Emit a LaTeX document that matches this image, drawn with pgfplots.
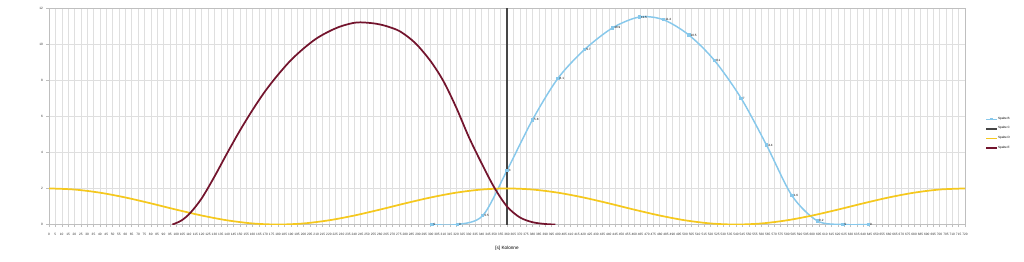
\documentclass[border=0pt]{standalone}
\usepackage{fontspec}
\setmainfont{Liberation Sans}
\usepackage{pgfplots}
\pgfplotsset{compat=1.18}
\definecolor{cblue}{RGB}{135,200,235}
\definecolor{cmaroon}{RGB}{115,20,45}
\definecolor{cyellow}{RGB}{245,200,30}
\definecolor{cline}{RGB}{70,70,70}
\begin{document}
\begin{tikzpicture}
\begin{axis}[
  scale only axis, width=687pt, height=162.4pt,
  xmin=0, xmax=720, ymin=0, ymax=12,
  xtick distance=5, ytick distance=2,
  grid=major,
  major grid style={draw=gray!25, line width=0.3pt},
  axis line style={draw=gray!50, line width=0.3pt},
  tick style={draw=gray!50, line width=0.3pt},
  major tick length=2pt, tick align=outside,
  xtick pos=bottom, ytick pos=left,
  ticklabel style={font=\fontsize{2.4}{3}\selectfont, text=black!80},
  xticklabel style={yshift=-1.2pt},
  yticklabel style={xshift=1pt},
  /pgf/number format/assume math mode=true,
  /pgf/number format/1000 sep={},
  xlabel={[s] Kolonne},
  xlabel style={font=\fontsize{3.5}{4}\selectfont, yshift=-1pt},
  legend style={at={(1.022,0.42)}, anchor=west, draw=none, fill=none,
    font=\fontsize{2.3}{2.5}\selectfont, row sep=3pt, inner sep=0pt,
    nodes={inner sep=0.5pt}},
  legend cell align=left,
  legend image post style={scale=0.45},
]
\addplot[cblue, line width=1.1pt, smooth, mark=square*, mark size=0.7pt,
  mark options={fill=cblue, draw=cblue},
  nodes near coords={\pgfmathprintnumber[fixed,precision=1]{\pgfplotspointmeta}},
  every node near coord/.append style={font=\fontsize{2.3}{2.5}\selectfont, text=black, anchor=west, xshift=0.3pt, inner sep=0.5pt}]
coordinates {
(301,0) (321,0) (341,0.5) (360,3.0) (380,5.8) (400,8.1) (421,9.7) (443,10.9)
(464,11.5) (483,11.35) (503,10.5) (523,9.1) (544,7.0) (564,4.4) (584,1.6)
(604,0.2) (624,0) (644,0)
};
\addlegendentry{Spalte B}
\addplot[cline, line width=1.3pt] coordinates {(360,0) (360,12)};
\addlegendentry{Spalte C}
\addplot[cyellow, line width=1.3pt, smooth] coordinates {
(0,2) (20,1.940) (40,1.766) (60,1.5) (80,1.174) (100,0.826) (120,0.5) (140,0.234)
(160,0.060) (180,0) (200,0.060) (220,0.234) (240,0.5) (260,0.826) (280,1.174)
(300,1.5) (320,1.766) (340,1.940) (360,2) (380,1.940) (400,1.766) (420,1.5)
(440,1.174) (460,0.826) (480,0.5) (500,0.234) (520,0.060) (540,0) (560,0.060)
(580,0.234) (600,0.5) (620,0.826) (640,1.174) (660,1.5) (680,1.766) (700,1.940) (720,2)
};
\addlegendentry{Spalte D}
\addplot[cmaroon, line width=1.3pt, smooth] coordinates {
(97,0) (104,0.22) (111,0.64) (120,1.45) (130,2.65) (140,3.95) (150,5.2) (160,6.35)
(170,7.4) (180,8.3) (190,9.1) (200,9.75) (210,10.3) (220,10.7) (230,11.0)
(242,11.2) (255,11.15) (265,11.0) (276,10.7) (288,10.05) (300,9.05)
(310,7.95) (320,6.5) (330,4.85) (340,3.4) (350,2.05) (360,1.0) (370,0.4)
(380,0.13) (390,0.03) (398,0)
};
\addlegendentry{Spalte E}
\end{axis}
\pgfresetboundingbox
\path[use as bounding box] ([xshift=-36.75pt,yshift=-27.75pt]current axis.south west) rectangle ([xshift=44.25pt,yshift=6pt]current axis.north east);
\end{tikzpicture}
\end{document}
